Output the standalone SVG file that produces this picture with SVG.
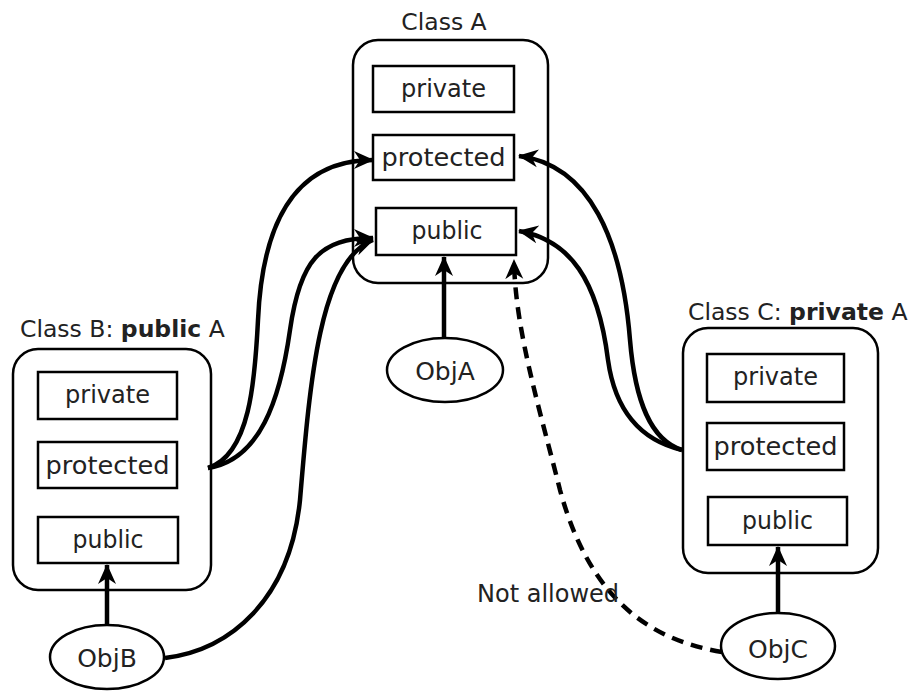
<svg xmlns="http://www.w3.org/2000/svg" width="915" height="692" viewBox="0 0 915 692">
  <style>
    .cls { fill: #fff; stroke: #000; stroke-width: 2.5; }
    .mem { fill: #fff; stroke: #000; stroke-width: 2.5; }
    .obj { fill: #fff; stroke: #000; stroke-width: 2.5; }
    .title { font-family: "DejaVu Sans", Verdana, sans-serif; font-size: 23.5px; fill: #222; }
    .title .b { font-weight: bold; }
    .lbl { font-family: "DejaVu Sans", Verdana, sans-serif; font-size: 25px; fill: #222; text-anchor: middle; }
    .note { font-family: "DejaVu Sans", Verdana, sans-serif; font-size: 24px; fill: #222; }
    .conn { fill: none; stroke: #000; stroke-width: 4.5; marker-end: url(#head); }
    .dash { stroke-dasharray: 12 8; }
  </style>
  <defs>
    <marker id="head" viewBox="0 0 22 22" refX="19" refY="11" markerWidth="22" markerHeight="22" markerUnits="userSpaceOnUse" orient="auto">
      <path d="M0,2 L20,11 L0,20 L6,11 z" fill="#000"/>
    </marker>
  </defs>

  <rect width="915" height="692" fill="#fff"/>

  <!-- Class A -->
  <g id="classA">
    <text class="title" x="444" y="30" text-anchor="middle">Class A</text>
    <rect class="cls" x="353" y="40" width="195" height="243" rx="25" ry="25"/>
    <rect class="mem" x="373" y="66" width="141" height="46"/>
    <text class="lbl" x="443.5" y="97" textLength="85" lengthAdjust="spacingAndGlyphs">private</text>
    <rect class="mem" x="373" y="135" width="141" height="45"/>
    <text class="lbl" x="443.5" y="166" textLength="124" lengthAdjust="spacingAndGlyphs">protected</text>
    <rect class="mem" x="376" y="208" width="140" height="47"/>
    <text class="lbl" x="447" y="239" textLength="71" lengthAdjust="spacingAndGlyphs">public</text>
  </g>

  <!-- Class B -->
  <g id="classB">
    <text class="title" x="20" y="337">Class B: <tspan class="b">public</tspan> A</text>
    <rect class="cls" x="13" y="349" width="198" height="241" rx="25" ry="25"/>
    <rect class="mem" x="38" y="372" width="139" height="47"/>
    <text class="lbl" x="107.5" y="403" textLength="85" lengthAdjust="spacingAndGlyphs">private</text>
    <rect class="mem" x="38" y="442" width="139" height="46"/>
    <text class="lbl" x="107.5" y="474" textLength="124" lengthAdjust="spacingAndGlyphs">protected</text>
    <rect class="mem" x="38" y="517" width="140" height="46"/>
    <text class="lbl" x="108" y="548" textLength="71" lengthAdjust="spacingAndGlyphs">public</text>
  </g>

  <!-- Class C -->
  <g id="classC">
    <text class="title" x="688" y="320">Class C: <tspan class="b">private</tspan> A</text>
    <rect class="cls" x="683" y="328" width="195" height="245" rx="25" ry="25"/>
    <rect class="mem" x="707" y="354" width="137" height="48"/>
    <text class="lbl" x="775.5" y="385" textLength="85" lengthAdjust="spacingAndGlyphs">private</text>
    <rect class="mem" x="707" y="423" width="137" height="47"/>
    <text class="lbl" x="775.5" y="455" textLength="124" lengthAdjust="spacingAndGlyphs">protected</text>
    <rect class="mem" x="708" y="497" width="139" height="48"/>
    <text class="lbl" x="777.5" y="529" textLength="71" lengthAdjust="spacingAndGlyphs">public</text>
  </g>

  <!-- Objects -->
  <g id="objA">
    <ellipse class="obj" cx="445" cy="370" rx="58" ry="32"/>
    <text class="lbl" x="445" y="380" font-size="24">ObjA</text>
  </g>
  <g id="objB">
    <ellipse class="obj" cx="107" cy="657" rx="57" ry="32"/>
    <text class="lbl" x="107" y="667" font-size="24">ObjB</text>
  </g>
  <g id="objC">
    <ellipse class="obj" cx="778" cy="646" rx="57" ry="33"/>
    <text class="lbl" x="778" y="658" font-size="24">ObjC</text>
  </g>

  <!-- Connectors -->
  <g id="connectors">
    <!-- object to own public section -->
    <path class="conn" d="M444,337 L444,257"/>
    <path class="conn" d="M107,625 L107,565"/>
    <path class="conn" d="M778,613 L778,547"/>
    <!-- Class B (public inheritance) -->
    <path class="conn" d="M208,468 C250,455 255,380 258,320 C262,230 290,160 373,160"/>
    <path class="conn" d="M208,468 C260,460 280,400 290,330 C300,260 320,238 373,238"/>
    <path class="conn" d="M165,658 C230,650 290,600 300,500 C310,380 320,260 373,240"/>
    <!-- Class C (private inheritance) -->
    <path class="conn" d="M682,450 C650,440 635,400 630,340 C622,240 590,165 519,156"/>
    <path class="conn" d="M682,450 C640,440 615,410 608,360 C598,280 570,240 519,231"/>
    <!-- ObjC cannot reach Class A public -->
    <path class="conn dash" d="M722,652 C650,640 590,600 560,490 C540,410 515,330 514,260"/>
  </g>

  <text class="note" x="477" y="602">Not allowed</text>
</svg>
